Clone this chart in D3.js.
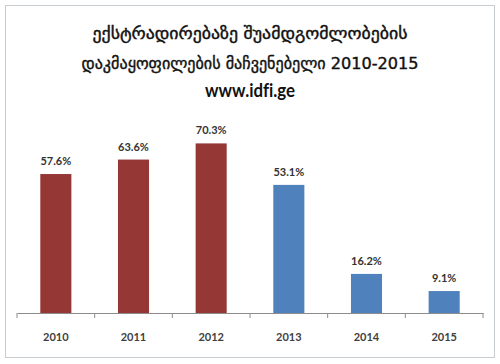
<!DOCTYPE html>
<html>
<head>
<meta charset="utf-8">
<script src="https://d3js.org/d3.v7.min.js"></script>
<style>
  html, body { margin: 0; padding: 0; background: #fff; }
  svg { display: block; }
</style>
</head>
<body>
<div id="chart"></div>
<script>
// data
const years = ["2010", "2011", "2012", "2013", "2014", "2015"];
const values = [57.6, 63.6, 70.3, 53.1, 16.2, 9.1];
const barColors = ["#953735", "#953735", "#953735", "#4f81bd", "#4f81bd", "#4f81bd"];
const titleLines = [
  "ექსტრადირებაზე შუამდგომლობების",
  "დაკმაყოფილების მაჩვენებელი 2010-2015",
  "www.idfi.ge"
];

const width = 500, height = 364;
const margin = { left: 17, right: 17, top: 120, bottom: 51 };

const svg = d3.select("#chart")
  .append("svg")
  .attr("width", width)
  .attr("height", height);

// рамка
svg.append("rect")
  .attr("x", 5.5).attr("y", 5.5)
  .attr("width", width - 11).attr("height", height - 12)
  .attr("fill", "#fff")
  .attr("stroke", "#c8cdd2")
  .attr("stroke-width", 1);

// заголовок
const titleY = [39, 69, 97];
const titleW = [315, 337, 90];
svg.append("g")
  .selectAll("text")
  .data(titleLines)
  .enter()
  .append("text")
  .attr("x", width / 2)
  .attr("y", (d, i) => titleY[i])
  .attr("text-anchor", "middle")
  .attr("font-family", (d, i) => i < 2 ? "'DejaVu Sans', sans-serif" : "Lato, sans-serif")
  .attr("font-weight", (d, i) => i < 2 ? "normal" : "bold")
  .attr("font-size", (d, i) => i < 2 ? "16px" : "18px")
  .attr("fill", "#111")
  .attr("stroke", (d, i) => i < 2 ? "#111" : "none")
  .attr("stroke-width", 0.4)
  .style("font-variant-ligatures", "none")
  .attr("textLength", (d, i) => titleW[i])
  .attr("lengthAdjust", "spacingAndGlyphs")
  .text(d => d);

const x = d3.scaleBand()
  .domain(years)
  .range([margin.left, width - margin.right])
  .paddingInner(0.6)
  .paddingOuter(0.3);

const y = d3.scaleLinear()
  .domain([0, 80])
  .range([height - margin.bottom, margin.top]);

// столбцы
svg.append("g")
  .selectAll("rect")
  .data(values)
  .enter()
  .append("rect")
  .attr("x", (d, i) => x(years[i]))
  .attr("y", d => y(d))
  .attr("width", x.bandwidth())
  .attr("height", d => y(0) - y(d))
  .attr("fill", (d, i) => barColors[i]);

// подписи значений
svg.append("g")
  .selectAll("text")
  .data(values)
  .enter()
  .append("text")
  .attr("x", (d, i) => x(years[i]) + x.bandwidth() / 2)
  .attr("y", d => y(d) - 9)
  .attr("text-anchor", "middle")
  .attr("font-family", "Lato, 'Open Sans', sans-serif")
  .attr("font-weight", "bold")
  .attr("font-size", "11px")
  .attr("fill", "#333")
  .text(d => d.toFixed(1) + "%");

// ось X
const axis = svg.append("g")
  .attr("transform", `translate(0,${y(0)})`)
  .call(d3.axisBottom(x).tickSize(0).tickPadding(20));

axis.select(".domain").attr("stroke", "#8c8c8c");
axis.selectAll("text")
  .attr("font-family", "Lato, 'Open Sans', sans-serif")
  .attr("font-weight", "bold")
  .attr("font-size", "11px")
  .attr("fill", "#404040");

// деления между категориями
const edges = d3.range(years.length + 1).map(i => margin.left + i * (width - margin.left - margin.right) / years.length);
axis.append("g")
  .selectAll("line")
  .data(edges)
  .enter()
  .append("line")
  .attr("x1", d => d).attr("x2", d => d)
  .attr("y1", 0).attr("y2", 5)
  .attr("stroke", "#8c8c8c");
</script>
</body>
</html>
